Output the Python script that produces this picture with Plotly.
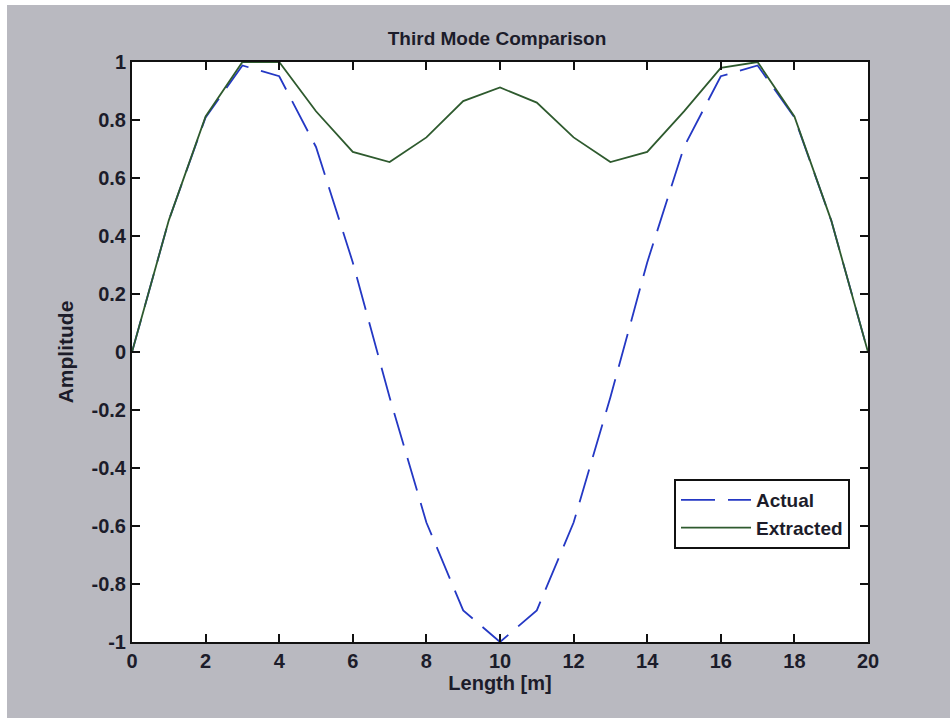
import plotly.graph_objects as go

length_m = [0, 1, 2, 3, 4, 5, 6, 7, 8, 9, 10, 11, 12, 13, 14, 15, 16, 17, 18, 19, 20]
actual = [0.0, 0.454, 0.809, 0.988, 0.951, 0.707, 0.309, -0.156, -0.588, -0.891, -1.0,
          -0.891, -0.588, -0.156, 0.309, 0.707, 0.951, 0.988, 0.809, 0.454, 0.0]
extracted = [0.0, 0.454, 0.812, 1.0, 1.0, 0.83, 0.69, 0.655, 0.74, 0.865, 0.912,
             0.86, 0.74, 0.655, 0.69, 0.83, 0.98, 1.0, 0.812, 0.454, 0.0]
x_ticks = [0, 2, 4, 6, 8, 10, 12, 14, 16, 18, 20]
y_ticks = [-1, -0.8, -0.6, -0.4, -0.2, 0, 0.2, 0.4, 0.6, 0.8, 1]
y_tick_text = ["-1", "-0.8", "-0.6", "-0.4", "-0.2", "0", "0.2", "0.4", "0.6", "0.8", "1"]

W, H = 950, 718
L, R, T, B = 132, 82, 62, 76
pw, ph = W - L - R, H - T - B

def px_to_paper_x(px):
    return (px - L) / pw

def py_to_paper_y(py):
    return (H - B - py) / ph

FONT = "Liberation Sans, Arial"
TXT = "#1c1c2a"

fig = go.Figure()
fig.add_trace(go.Scatter(x=length_m, y=actual, mode="lines", name="Actual",
                         line=dict(color="#2438c4", width=1.8, dash="34px,13px")))
fig.add_trace(go.Scatter(x=length_m, y=extracted, mode="lines", name="Extracted",
                         line=dict(color="#2e5a2e", width=1.8)))

tickfont = dict(family=FONT, size=20, color=TXT, weight="bold")
axis_common = dict(showline=True, linecolor="#111111", linewidth=2, mirror="ticks",
                   ticks="inside", ticklen=8, tickwidth=2, tickcolor="#111111",
                   showgrid=False, zeroline=False, tickfont=tickfont)

fig.update_layout(
    width=W, height=H,
    margin=dict(l=L, r=R, t=T, b=B),
    paper_bgcolor="#b9b9c0",
    plot_bgcolor="#ffffff",
    title=dict(text="Third Mode Comparison", x=497 / W,
               xanchor="center", y=1 - 38 / H, yanchor="middle",
               font=dict(family=FONT, size=19, color=TXT, weight="bold")),
    xaxis=dict(range=[0, 20], tickvals=x_ticks, ticktext=[str(v) for v in x_ticks],
               title=dict(text="Length [m]", standoff=4,
                          font=dict(family=FONT, size=20, color=TXT, weight="bold")),
               **axis_common),
    yaxis=dict(range=[-1, 1], tickvals=y_ticks, ticktext=y_tick_text,
               title=dict(text="Amplitude", standoff=12,
                          font=dict(family=FONT, size=21, color=TXT, weight="bold")),
               **axis_common),
    legend=dict(x=px_to_paper_x(850), xanchor="right", y=py_to_paper_y(479), yanchor="top",
                bgcolor="#ffffff", bordercolor="#111111", borderwidth=2,
                font=dict(family=FONT, size=19, color=TXT, weight="bold"),
                tracegroupgap=0, itemwidth=70),
    showlegend=True,
    shapes=[
        dict(type="rect", xref="paper", yref="paper", layer="below",
             x0=px_to_paper_x(-5), x1=px_to_paper_x(W + 5),
             y0=py_to_paper_y(5), y1=py_to_paper_y(-5),
             fillcolor="#ffffff", line=dict(width=0)),
        dict(type="rect", xref="paper", yref="paper", layer="below",
             x0=px_to_paper_x(-5), x1=px_to_paper_x(7),
             y0=py_to_paper_y(H + 5), y1=py_to_paper_y(-5),
             fillcolor="#ffffff", line=dict(width=0)),
    ],
)

fig.write_html("out.html")
